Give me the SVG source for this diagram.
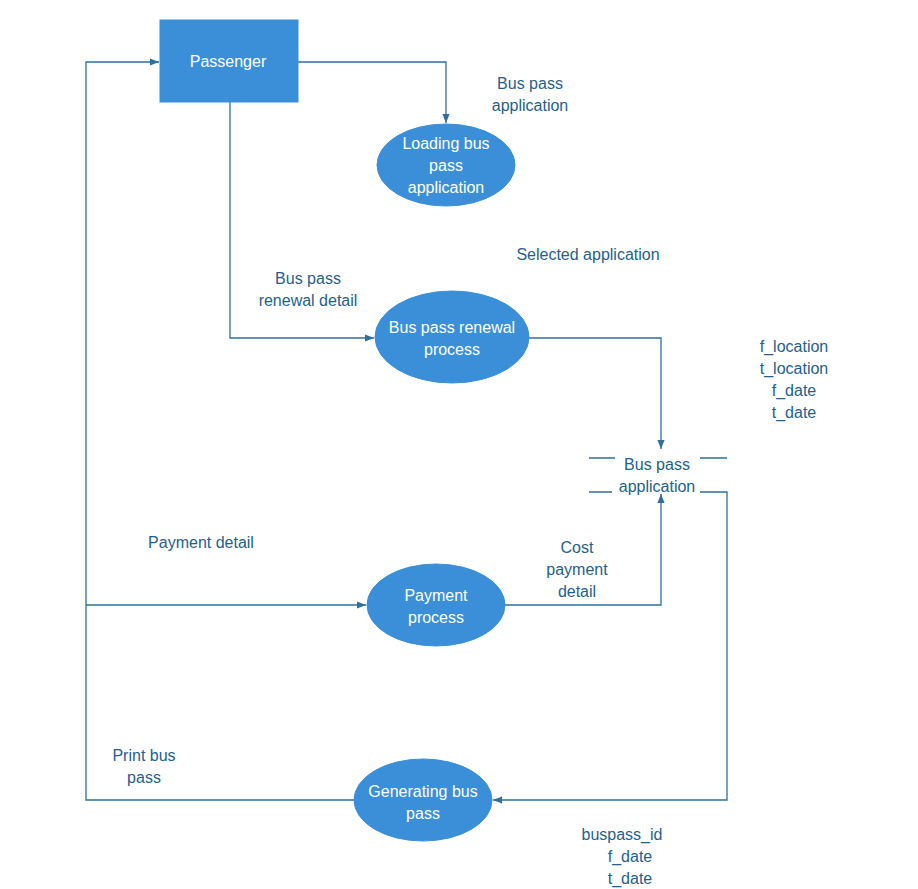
<svg xmlns="http://www.w3.org/2000/svg" width="918" height="889" viewBox="0 0 918 889">
<style>
.l{fill:none;stroke:#2f6f9f;stroke-width:1.3}
.n{fill:#3a8fd8;stroke:#3a8fd8}
.w{font-family:"Liberation Sans",Arial,sans-serif;font-size:16px;fill:#fff;text-anchor:middle}
.t{font-family:"Liberation Sans",Arial,sans-serif;font-size:16px;fill:#235f8e;text-anchor:middle}
</style>
<defs><marker id="a" viewBox="0 0 10 10" refX="10" refY="5" markerWidth="7" markerHeight="7" orient="auto"><path d="M0,1 L10,5 L0,9 z" fill="#2f6f9f"/></marker></defs>
<rect width="918" height="889" fill="#fff"/>
<g id="connectors">
<path class="l" d="M298,62 H446 V123" marker-end="url(#a)"/>
<path class="l" d="M230,102 V338 H374" marker-end="url(#a)"/>
<path class="l" d="M529,338 H661 V449" marker-end="url(#a)"/>
<path class="l" d="M505,605 H661 V494" marker-end="url(#a)"/>
<path class="l" d="M86,605 H366" marker-end="url(#a)"/>
<path class="l" d="M354,800 H86 V62 H159" marker-end="url(#a)"/>
<path class="l" d="M700,492 H727 V800 H493" marker-end="url(#a)"/>
<path class="l" d="M589,458 H615 M700,458 H727 M589,492 H612"/>
</g>
<g id="passenger"><rect class="n" x="160" y="20" width="138" height="82"/><text class="w" x="228" y="67">Passenger</text></g>
<g id="loading"><ellipse class="n" cx="446" cy="165" rx="69" ry="41"/><text class="w" x="446" y="149">Loading bus</text><text class="w" x="446" y="171">pass</text><text class="w" x="446" y="193">application</text></g>
<g id="renewal"><ellipse class="n" cx="452" cy="337" rx="77" ry="46"/><text class="w" x="452" y="333">Bus pass renewal</text><text class="w" x="452" y="355">process</text></g>
<g id="payment"><ellipse class="n" cx="436" cy="605" rx="69" ry="41"/><text class="w" x="436" y="601">Payment</text><text class="w" x="436" y="623">process</text></g>
<g id="generating"><ellipse class="n" cx="423" cy="800" rx="69" ry="41"/><text class="w" x="423" y="797">Generating bus</text><text class="w" x="423" y="819">pass</text></g>
<g id="store"><text class="t" x="657" y="470">Bus pass</text><text class="t" x="657" y="492">application</text></g>
<g id="labels">
<text class="t" x="530" y="89">Bus pass</text><text class="t" x="530" y="111">application</text>
<text class="t" x="588" y="260">Selected application</text>
<text class="t" x="308" y="284">Bus pass</text><text class="t" x="308" y="306">renewal detail</text>
<text class="t" x="794" y="352">f_location</text><text class="t" x="794" y="374">t_location</text><text class="t" x="794" y="396">f_date</text><text class="t" x="794" y="418">t_date</text>
<text class="t" x="201" y="548">Payment detail</text>
<text class="t" x="577" y="553">Cost</text><text class="t" x="577" y="575">payment</text><text class="t" x="577" y="597">detail</text>
<text class="t" x="144" y="761">Print bus</text><text class="t" x="144" y="783">pass</text>
<text class="t" x="622" y="840">buspass_id</text><text class="t" x="630" y="862">f_date</text><text class="t" x="630" y="884">t_date</text>
</g>
</svg>
